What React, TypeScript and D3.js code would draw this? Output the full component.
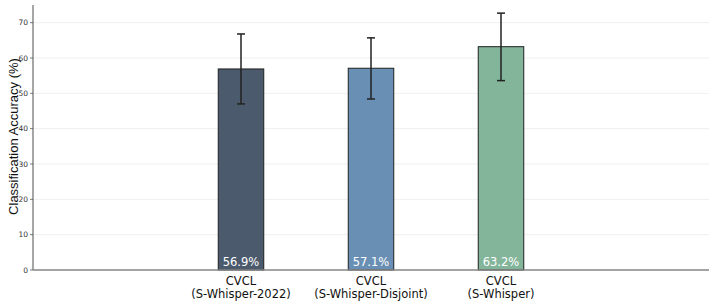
import { useEffect, useRef } from "react"
import * as d3 from "d3"

const categories = ["CVCL\n(S-Whisper-2022)", "CVCL\n(S-Whisper-Disjoint)", "CVCL\n(S-Whisper)"]
const accuracy = [56.9, 57.1, 63.2]
const errLow = [47.0, 48.4, 53.6]
const errHigh = [66.8, 65.7, 72.7]
const barColors = ["#4b5b6d", "#6a8fb4", "#83b59b"]
const yTicks = [0, 10, 20, 30, 40, 50, 60, 70]

export default function App() {
  const svgRef = useRef<SVGSVGElement>(null)

  useEffect(() => {
    if (!svgRef.current) return
    const width = 714
    const height = 304
    const margin = { left: 33, right: 5, top: 5, bottom: 34 }

    const svg = d3.select(svgRef.current)
    svg.selectAll("*").remove()

    const x = d3
      .scaleLinear()
      .domain([-1.6, 3.6])
      .range([margin.left, width - margin.right])
    const y = d3
      .scaleLinear()
      .domain([0, 75])
      .range([height - margin.bottom, margin.top])

    const barW = x(0.35) - x(0)

    // grid
    svg
      .append("g")
      .selectAll("line")
      .data(yTicks)
      .join("line")
      .attr("x1", margin.left)
      .attr("x2", width - margin.right)
      .attr("y1", (d) => y(d))
      .attr("y2", (d) => y(d))
      .attr("stroke", "#ebebeb")
      .attr("stroke-width", 0.8)

    // bars
    svg
      .append("g")
      .selectAll("rect")
      .data(accuracy)
      .join("rect")
      .attr("x", (_, i) => x(i) - barW / 2)
      .attr("y", (d) => y(d))
      .attr("width", barW)
      .attr("height", (d) => y(0) - y(d))
      .attr("fill", (_, i) => barColors[i])
      .attr("stroke", "#1f1f1f")
      .attr("stroke-width", 1)

    // error bars
    const eb = svg.append("g").attr("stroke", "#222").attr("stroke-width", 1.5)
    accuracy.forEach((_, i) => {
      const cx = x(i)
      eb.append("line").attr("x1", cx).attr("x2", cx).attr("y1", y(errLow[i])).attr("y2", y(errHigh[i]))
      ;[errLow[i], errHigh[i]].forEach((v) => {
        eb.append("line").attr("x1", cx - 4).attr("x2", cx + 4).attr("y1", y(v)).attr("y2", y(v))
      })
    })

    // value labels
    svg
      .append("g")
      .selectAll("text")
      .data(accuracy)
      .join("text")
      .attr("x", (_, i) => x(i))
      .attr("y", y(0) - 4)
      .attr("text-anchor", "middle")
      .style("font-family", "DejaVu Sans")
      .style("font-size", "11.5px")
      .style("fill", "#ffffff")
      .text((d) => `${d.toFixed(1)}%`)

    // axes spines
    svg
      .append("line")
      .attr("x1", margin.left)
      .attr("x2", margin.left)
      .attr("y1", margin.top)
      .attr("y2", y(0))
      .attr("stroke", "#888")
      .attr("stroke-width", 1.5)
    svg
      .append("line")
      .attr("x1", margin.left)
      .attr("x2", width - margin.right)
      .attr("y1", y(0))
      .attr("y2", y(0))
      .attr("stroke", "#888")
      .attr("stroke-width", 1.5)

    // y ticks
    const yt = svg.append("g").selectAll("g").data(yTicks).join("g")
    yt.append("line")
      .attr("x1", margin.left - 3)
      .attr("x2", margin.left)
      .attr("y1", (d) => y(d))
      .attr("y2", (d) => y(d))
      .attr("stroke", "#555")
      .attr("stroke-width", 0.8)
    yt.append("text")
      .attr("x", margin.left - 5)
      .attr("y", (d) => y(d))
      .attr("dy", "0.35em")
      .attr("text-anchor", "end")
      .style("font-family", "DejaVu Sans")
      .style("font-size", "7.5px")
      .style("fill", "#333")
      .text((d) => d)

    // x tick labels
    categories.forEach((c, i) => {
      const t = svg
        .append("text")
        .attr("x", x(i))
        .attr("y", y(0) + 15)
        .attr("text-anchor", "middle")
        .style("font-family", "DejaVu Sans")
        .style("font-size", "11.5px")
        .style("fill", "#111")
      c.split("\n").forEach((line, j) => {
        t.append("tspan").attr("x", x(i)).attr("dy", j === 0 ? 0 : 13).text(line)
      })
    })

    // y label
    svg
      .append("text")
      .attr("transform", `translate(17.5, ${(margin.top + y(0)) / 2 - 1}) rotate(-90)`)
      .attr("text-anchor", "middle")
      .style("font-family", "Liberation Sans")
      .style("font-size", "13px")
      .style("fill", "#111")
      .text("Classification Accuracy (%)")
  }, [])

  return (
    <svg
      ref={svgRef}
      width={714}
      height={304}
      style={{ position: "absolute", left: 0, top: 0, background: "#fff" }}
    ></svg>
  )
}
